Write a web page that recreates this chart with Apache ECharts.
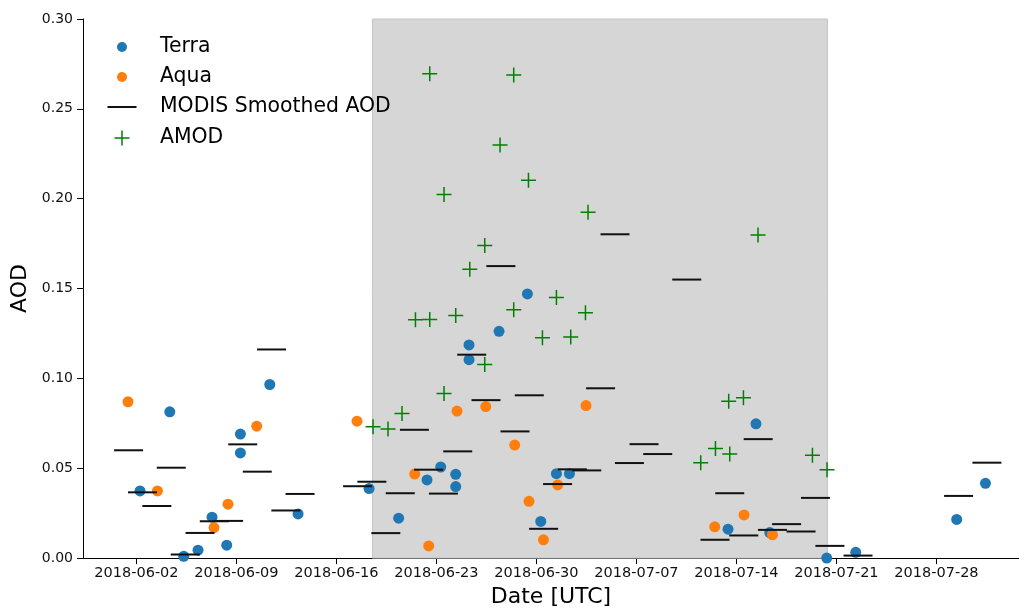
<!DOCTYPE html>
<html><head><meta charset="utf-8">
<script src="https://cdn.jsdelivr.net/npm/echarts@6/dist/echarts.min.js"></script>
<style>html,body{margin:0;padding:0;background:#fff}#c{width:1019px;height:613px}</style>
</head><body><div id="c"></div>
<script>
// ---- data (dates in UTC) ----
const terraDates = ['2018-06-02T06:00','2018-06-04T08:00','2018-06-05T07:30','2018-06-06T07:30','2018-06-07T07:00','2018-06-08T07:40','2018-06-09T06:40','2018-06-09T06:40','2018-06-11T08:00','2018-06-13T07:30','2018-06-18T06:50','2018-06-20T08:30','2018-06-22T08:10','2018-06-23T07:10','2018-06-24T08:25','2018-06-24T08:25','2018-06-25T06:45','2018-06-25T06:45','2018-06-27T09:10','2018-06-29T08:50','2018-06-30T07:15','2018-07-01T09:35','2018-07-02T07:25','2018-07-13T09:50','2018-07-15T08:50','2018-07-16T08:00','2018-07-20T07:40','2018-07-22T08:25','2018-07-29T10:00','2018-07-31T10:20'];
const terraAOD = [0.0374,0.0814,0.001,0.0044,0.0228,0.0072,0.069,0.0585,0.0966,0.0246,0.0387,0.0222,0.0435,0.0507,0.0466,0.0398,0.1186,0.1104,0.1262,0.147,0.0204,0.047,0.047,0.0161,0.0747,0.0142,0.000,0.0032,0.0215,0.0416];

const aquaDates = ['2018-06-01T09:50','2018-06-03T11:15','2018-06-07T10:20','2018-06-08T09:50','2018-06-10T10:05','2018-06-17T10:35','2018-06-21T11:30','2018-06-22T11:00','2018-06-24T10:35','2018-06-26T10:50','2018-06-28T11:30','2018-06-29T11:30','2018-06-30T11:45','2018-07-01T11:45','2018-07-03T11:20','2018-07-12T11:30','2018-07-14T12:45','2018-07-16T12:30'];
const aquaAOD = [0.087,0.0374,0.017,0.030,0.0734,0.0762,0.0468,0.0068,0.0818,0.0843,0.0629,0.0316,0.0102,0.0407,0.0849,0.0174,0.024,0.013];

const smoothDates = ['2018-06-01T10:50','2018-06-02T10:15','2018-06-03T10:20','2018-06-04T10:30','2018-06-05T10:00','2018-06-06T10:50','2018-06-07T10:50','2018-06-08T10:50','2018-06-09T10:35','2018-06-10T11:00','2018-06-11T11:00','2018-06-12T11:00','2018-06-13T10:50','2018-06-17T11:30','2018-06-18T11:30','2018-06-19T11:00','2018-06-20T11:15','2018-06-21T11:00','2018-06-22T10:50','2018-06-23T11:45','2018-06-24T11:45','2018-06-25T11:15','2018-06-26T11:15','2018-06-27T12:15','2018-06-28T12:00','2018-06-29T12:00','2018-06-30T12:00','2018-07-01T11:30','2018-07-02T12:15','2018-07-03T12:30','2018-07-04T11:45','2018-07-05T12:00','2018-07-06T12:15','2018-07-07T12:45','2018-07-08T11:45','2018-07-10T12:30','2018-07-12T12:00','2018-07-13T12:45','2018-07-14T12:15','2018-07-15T12:30','2018-07-16T12:30','2018-07-17T12:15','2018-07-18T12:30','2018-07-19T12:45','2018-07-20T13:00','2018-07-22T12:15','2018-07-29T13:10','2018-07-31T12:45'];
const smoothAOD = [0.060,0.0366,0.029,0.0503,0.002,0.014,0.0205,0.0207,0.0633,0.0481,0.1161,0.0265,0.0357,0.040,0.0425,0.0139,0.0361,0.0714,0.0492,0.0359,0.0594,0.1132,0.0879,0.1625,0.0705,0.0906,0.0163,0.0412,0.0494,0.0488,0.0945,0.1802,0.0529,0.0634,0.0579,0.155,0.0102,0.0361,0.0126,0.0662,0.0157,0.0189,0.0148,0.0335,0.0068,0.0014,0.0346,0.0531];

const amodDates = ['2018-06-18T13:30','2018-06-19T14:40','2018-06-20T14:10','2018-06-21T12:45','2018-06-22T12:45','2018-06-22T12:45','2018-06-23T12:45','2018-06-23T12:45','2018-06-24T08:25','2018-06-25T08:00','2018-06-26T09:10','2018-06-26T09:10','2018-06-27T10:50','2018-06-28T09:50','2018-06-28T09:50','2018-06-29T10:35','2018-06-30T10:05','2018-07-01T09:35','2018-07-02T09:35','2018-07-03T10:20','2018-07-03T14:40','2018-07-11T12:00','2018-07-12T12:45','2018-07-13T11:00','2018-07-13T12:45','2018-07-14T11:45','2018-07-15T12:15','2018-07-19T07:40','2018-07-20T08:10'];
const amodAOD = [0.0731,0.0718,0.0805,0.1326,0.1328,0.2695,0.0916,0.2024,0.135,0.1608,0.1077,0.1739,0.2299,0.1382,0.2688,0.2103,0.1226,0.145,0.123,0.1365,0.1924,0.0531,0.061,0.0873,0.0579,0.0893,0.1798,0.0572,0.0492];

const xTickLabels = ['2018-06-02','2018-06-09','2018-06-16','2018-06-23','2018-06-30','2018-07-07','2018-07-14','2018-07-21','2018-07-28'];
const shadeStart = '2018-06-18T12:30';
const shadeEnd = '2018-07-20T08:50';
const xMinDate = '2018-05-29T06:15';
const xMaxDate = '2018-08-02T18:40';

// ---- helpers ----
const ORIGIN = Date.UTC(2018, 5, 2);
function toDay(s) {
  const [d, t] = s.split('T');
  const [Y, M, D] = d.split('-').map(Number);
  const [h, m] = (t || '00:00').split(':').map(Number);
  return (Date.UTC(Y, M - 1, D, h, m) - ORIGIN) / 86400000;
}
const pairs = (ds, vs) => ds.map((d, i) => [toDay(d), vs[i]]);
const tickDays = xTickLabels.map(toDay);
const labelOf = {};
xTickLabels.forEach((l, i) => { labelOf[Math.round(tickDays[i] * 1000)] = l; });

const FONT = 'DejaVu Sans';
const PLUS = 'path://M7.2,0H8.8V7.2H16V8.8H8.8V16H7.2V8.8H0V7.2H7.2Z';
const BLUE = '#1f77b4', ORANGE = '#ff7f0e', GREEN = '#008000', BLACK = '#111111';

const legendRows = [
  { name: 'Terra', icon: 'circle', w: 10, h: 10, cy: 47 },
  { name: 'Aqua', icon: 'circle', w: 10, h: 10, cy: 77 },
  { name: 'MODIS Smoothed AOD', icon: 'rect', w: 29, h: 2, cy: 107 },
  { name: 'AMOD', icon: PLUS, w: 15, h: 15, cy: 138 }
];
const ICON_CX = 122, TEXT_X = 160;

const chart = echarts.init(document.getElementById('c'), null, { renderer: 'canvas' });
chart.setOption({
  animation: false,
  backgroundColor: '#ffffff',
  grid: { left: 83, right: 0, top: 19, bottom: 53, containLabel: false },
  legend: legendRows.map(r => ({
    data: [{ name: r.name, icon: r.icon }],
    left: ICON_CX - r.w / 2,
    top: r.cy - 10,
    itemWidth: r.w,
    itemHeight: r.h,
    padding: 0,
    selectedMode: false,
    textStyle: {
      fontSize: 20.4, lineHeight: 20, fontFamily: FONT, color: '#000',
      padding: [0, 0, 0, TEXT_X - 5 - (ICON_CX + r.w / 2)]
    }
  })),
  xAxis: {
    type: 'value',
    min: toDay(xMinDate),
    max: toDay(xMaxDate),
    splitLine: { show: false },
    axisLine: { show: true, onZero: false, lineStyle: { color: '#000', width: 1 } },
    axisTick: { show: true, inside: false, length: 6, customValues: tickDays, lineStyle: { color: '#000' } },
    axisLabel: {
      customValues: tickDays,
      formatter: v => labelOf[Math.round(v * 1000)] || '',
      fontFamily: FONT, fontSize: 14.5, color: '#111', margin: 8
    },
    name: 'Date [UTC]',
    nameLocation: 'middle',
    nameGap: 27,
    nameTextStyle: { fontFamily: FONT, fontSize: 22, color: '#000' }
  },
  yAxis: {
    type: 'value',
    min: 0, max: 0.3, interval: 0.05,
    splitLine: { show: false },
    axisLine: { show: true, onZero: false, lineStyle: { color: '#000', width: 1 } },
    axisTick: { show: true, inside: false, length: 6, lineStyle: { color: '#000' } },
    axisLabel: {
      formatter: v => v.toFixed(2),
      fontFamily: FONT, fontSize: 14, color: '#111', margin: 10
    },
    name: 'AOD',
    nameLocation: 'middle',
    nameGap: 48,
    nameTextStyle: { fontFamily: FONT, fontSize: 22, color: '#000' }
  },
  series: [
    {
      name: 'shade', type: 'scatter', data: [], z: 1, silent: true,
      markArea: {
        silent: true,
        itemStyle: { color: '#d6d6d6', borderColor: '#c4c4c4', borderWidth: 1 },
        data: [[{ xAxis: toDay(shadeStart), yAxis: 0 }, { xAxis: toDay(shadeEnd), yAxis: 0.3 }]]
      }
    },
    {
      name: 'Terra', type: 'scatter', z: 3, symbol: 'circle', symbolSize: 11,
      itemStyle: { color: BLUE, opacity: 1 },
      data: pairs(terraDates, terraAOD)
    },
    {
      name: 'Aqua', type: 'scatter', z: 3, symbol: 'circle', symbolSize: 11,
      itemStyle: { color: ORANGE, opacity: 1 },
      data: pairs(aquaDates, aquaAOD)
    },
    {
      name: 'MODIS Smoothed AOD', type: 'scatter', z: 4, symbol: 'rect', symbolSize: [29, 2],
      itemStyle: { color: BLACK, opacity: 1 },
      data: pairs(smoothDates, smoothAOD)
    },
    {
      name: 'AMOD', type: 'scatter', z: 5, symbol: PLUS, symbolSize: 15,
      itemStyle: { color: GREEN, opacity: 1 },
      data: pairs(amodDates, amodAOD)
    }
  ]
});
</script>
</body></html>
